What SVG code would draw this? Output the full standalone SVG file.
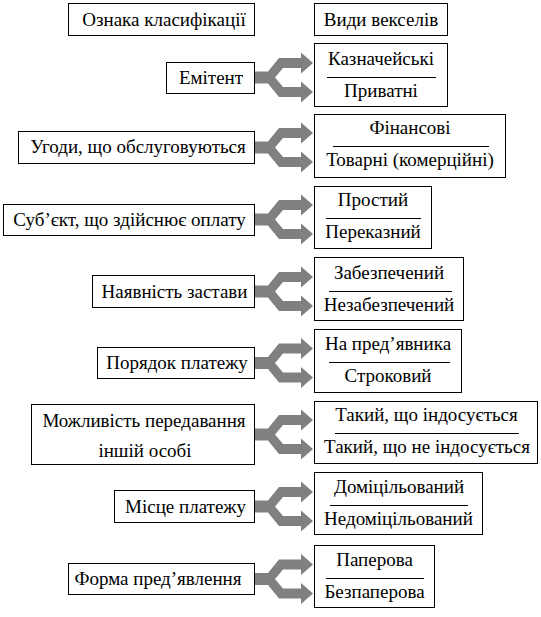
<svg xmlns="http://www.w3.org/2000/svg" xmlns:xlink="http://www.w3.org/1999/xlink" width="541" height="617" viewBox="0 0 541 617">
<style>
rect{fill:#fff;stroke:#000;stroke-width:1}
line{stroke:#000;stroke-width:1}
text{font-size:19px;fill:#000;text-anchor:middle}
.arr{fill:#808080}
</style>
<defs>
<path id="fork" class="arr" d="M0,-6 H13 L24,-19.5 H46 V-25 L58,-14.5 L46,-4 V-9.5 H28 L20,0 L28,9.5 H46 V4 L58,14.5 L46,25 V19.5 H24 L13,6 H0 Z"/>
</defs>
<rect width="541" height="617" style="fill:#fff;stroke:none"/>
<g id="connectors">
<use xlink:href="#fork" href="#fork" x="255" y="77.5"/>
<use xlink:href="#fork" href="#fork" x="255" y="147.5"/>
<use xlink:href="#fork" href="#fork" x="255" y="219.5"/>
<use xlink:href="#fork" href="#fork" x="255" y="291.5"/>
<use xlink:href="#fork" href="#fork" x="255" y="363"/>
<use xlink:href="#fork" href="#fork" x="255" y="434.5"/>
<use xlink:href="#fork" href="#fork" x="255" y="506.5"/>
<use xlink:href="#fork" href="#fork" x="255" y="579"/>
</g>
<g font-family="Liberation Serif, Times New Roman, serif">
<g id="h-left"><rect x="68.5" y="3.5" width="186" height="32"/><text x="164" y="26">Ознака класифікації</text></g>
<g id="h-right"><rect x="314.5" y="3.5" width="133" height="32"/><text x="381" y="26">Види векселів</text></g>

<g id="n1"><rect x="166.5" y="62.5" width="88" height="31"/><text x="211" y="84">Емітент</text></g>
<g id="r1"><rect x="314.5" y="43.5" width="133" height="63"/><line x1="327" y1="77.5" x2="436" y2="77.5"/><text x="381" y="65">Казначейські</text><text x="381" y="97">Приватні</text></g>

<g id="n2"><rect x="18.5" y="131.5" width="236" height="32"/><text x="138" y="153">Угоди, що обслуговуються</text></g>
<g id="r2"><rect x="314.5" y="114.5" width="191" height="63"/><line x1="333" y1="146.5" x2="489" y2="146.5"/><text x="410" y="134">Фінансові</text><text x="410" y="166">Товарні (комерційні)</text></g>

<g id="n3"><rect x="3.5" y="204.5" width="251" height="31"/><text x="129.5" y="226">Суб’єкт, що здійснює оплату</text></g>
<g id="r3"><rect x="314.5" y="186.5" width="117" height="62"/><line x1="326" y1="218.5" x2="421" y2="218.5"/><text x="373" y="206">Простий</text><text x="373" y="238">Переказний</text></g>

<g id="n4"><rect x="92.5" y="275.5" width="162" height="32"/><text x="174.5" y="298">Наявність застави</text></g>
<g id="r4"><rect x="314.5" y="257.5" width="149" height="63"/><line x1="329" y1="291.5" x2="452" y2="291.5"/><text x="389" y="279">Забезпечений</text><text x="389" y="311">Незабезпечений</text></g>

<g id="n5"><rect x="97.5" y="347.5" width="157" height="31"/><text x="177" y="369">Порядок платежу</text></g>
<g id="r5"><rect x="314.5" y="329.5" width="147" height="63"/><line x1="329" y1="362.5" x2="450" y2="362.5"/><text x="388" y="350">На пред’явника</text><text x="388" y="382">Строковий</text></g>

<g id="n6"><rect x="31.5" y="404.5" width="223" height="60"/><text x="144" y="427">Можливість передавання</text><text x="145" y="457">іншій особі</text></g>
<g id="r6"><rect x="314.5" y="401.5" width="223" height="62"/><line x1="335" y1="433.5" x2="519" y2="433.5"/><text x="426.5" y="421">Такий, що індосується</text><text x="427" y="453">Такий, що не індосується</text></g>

<g id="n7"><rect x="114.5" y="490.5" width="140" height="32"/><text x="185.5" y="513">Місце платежу</text></g>
<g id="r7"><rect x="314.5" y="472.5" width="168" height="62"/><line x1="330" y1="505.5" x2="468" y2="505.5"/><text x="399" y="493">Доміцільований</text><text x="398.5" y="525">Недоміцільований</text></g>

<g id="n8"><rect x="68.5" y="563.5" width="186" height="31"/><text x="158" y="585">Форма пред’явлення</text></g>
<g id="r8"><rect x="314.5" y="545.5" width="120" height="62"/><line x1="326" y1="578.5" x2="424" y2="578.5"/><text x="374.5" y="566">Паперова</text><text x="374.5" y="598">Безпаперова</text></g>
</g>
</svg>
